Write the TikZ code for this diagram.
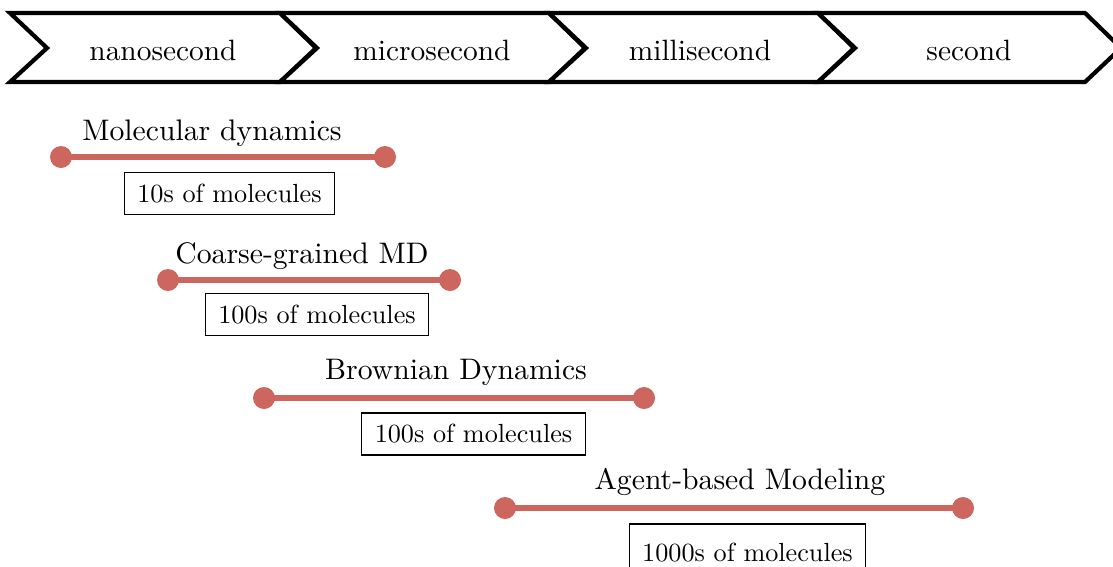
\documentclass[tikz,border=0pt]{standalone}
\usepackage{fontspec}
\newcommand{\chv}[1]{\scalebox{2.94}{#1}}
\newcommand{\mth}[1]{\scalebox{2.97}{#1}}
\newcommand{\bxt}[1]{\scalebox{2.62}{#1}}
\begin{document}
\begin{tikzpicture}[x=1pt,y=-1pt,
  chev/.style={draw=black,line width=4.2pt,line join=miter,fill=white},
  chevtext/.style={inner sep=0pt},
  methtext/.style={inner sep=0pt},
  boxtext/.style={draw=black,line width=1.3pt,fill=white,
     minimum height=42pt,inner xsep=13pt,inner ysep=0pt},
  bar/.style={draw=barred,line width=6pt},
  dot/.style={circle,fill=barred,minimum size=22pt,inner sep=0pt}]
\definecolor{barred}{RGB}{204,102,94}
\path[use as bounding box] (0,0) rectangle (1113,566);
% chevrons
\foreach \L/\R in {10/280,280/549,549/818,818/1085}{
  \draw[chev] (\L,13) -- (\R,13) -- (\R+36,48) -- (\R,82) -- (\L,82) -- (\L+37,48) -- cycle;
}
\node[chevtext] (ns) at (163,50) {\chv{nanosecond}};
\node[chevtext] (us) at (432,50) {\chv{microsecond}};
\node[chevtext] (ms) at (700,50) {\chv{millisecond}};
\node[chevtext] (s)  at (969,50) {\chv{second}};
% Molecular dynamics
\node[dot] (md1) at (61,157) {};
\node[dot] (md2) at (385,157) {};
\draw[bar] (md1.center) -- (md2.center);
\node[methtext] (mdl) at (212,133) {\mth{Molecular dynamics}};
\node[boxtext] (mdb) at (229.5,193.5) {\bxt{10s of molecules}};
% Coarse-grained MD
\node[dot] (cg1) at (168,280) {};
\node[dot] (cg2) at (450,280) {};
\draw[bar] (cg1.center) -- (cg2.center);
\node[methtext] (cgl) at (302,256) {\mth{Coarse-grained MD}};
\node[boxtext] (cgb) at (317,314.5) {\bxt{100s of molecules}};
% Brownian Dynamics
\node[dot] (bd1) at (264,398) {};
\node[dot] (bd2) at (644,398) {};
\draw[bar] (bd1.center) -- (bd2.center);
\node[methtext] (bdl) at (456,372) {\mth{Brownian Dynamics}};
\node[boxtext] (bdb) at (473.5,434) {\bxt{100s of molecules}};
% Agent-based Modeling
\node[dot] (ab1) at (505,508) {};
\node[dot] (ab2) at (963,508) {};
\draw[bar] (ab1.center) -- (ab2.center);
\node[methtext] (abl) at (740,482) {\mth{Agent-based Modeling}};
\node[boxtext,minimum height=58pt] (abb) at (747.5,553) {\bxt{1000s of molecules}};
\end{tikzpicture}
\end{document}
